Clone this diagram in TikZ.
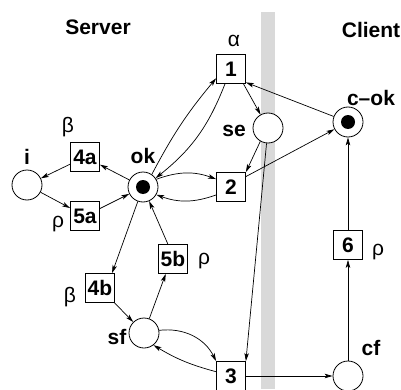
\documentclass[tikz,border=0pt]{standalone}
\usepackage{fontspec}
\setmainfont{Liberation Sans}
\usetikzlibrary{arrows.meta}
\definecolor{bandgray}{RGB}{217,217,217}
\begin{document}
\begin{tikzpicture}[x=1pt,y=1pt,
  font=\fontsize{21}{25}\selectfont,
  trans/.style={draw,line width=0.8pt,fill=white,minimum size=29pt,inner sep=0pt,
    font=\fontsize{21}{25}\selectfont\bfseries},
  place/.style={draw,circle,line width=0.8pt,fill=white,minimum size=30pt,inner sep=0pt},
  lbl/.style={inner sep=0pt,font=\fontsize{21}{25}\selectfont\bfseries},
  greek/.style={inner sep=0pt},
  token/.style={fill=black},
  arc/.style={line width=0.7pt,-{Stealth[length=8pt,width=4.5pt,inset=2pt]}}]

\useasboundingbox (0,0) rectangle (401,389);
\clip (0,0) rectangle (401,389);

% separator between server and client
\fill[bandgray] (261,0) rectangle (275,377);

% headings
\node[lbl] (server) at (98,362) {Server};
\node[lbl] (client) at (371,359) {Client};

% places
\node[place] (i)   at (27,204)  {};
\node[place] (ok)  at (143,202) {};
\node[place] (se)  at (268,261) {};
\node[place] (cok) at (348,267) {};
\node[place] (sf)  at (144,56)  {};
\node[place] (cf)  at (348,13)  {};
\fill[token] (ok)  circle[radius=7pt];
\fill[token] (cok) circle[radius=7pt];

% place names
\node[lbl] (ilbl)   at (27,232)  {i};
\node[lbl] (oklbl)  at (143,233) {ok};
\node[lbl] (selbl)  at (234,258) {se};
\node[lbl] (coklbl) at (371,291) {c--ok};
\node[lbl] (sflbl)  at (117,52)  {sf};
\node[lbl] (cflbl)  at (371,41)  {cf};

% transitions
\node[trans] (t1)  at (231,320) {1};
\node[trans] (t2)  at (231,202) {2};
\node[trans] (t3)  at (231,13)  {3};
\node[trans] (t4a) at (85,232)  {4a};
\node[trans] (t5a) at (85,173)  {5a};
\node[trans] (t4b) at (100,101) {4b};
\node[trans] (t5b) at (173,130) {5b};
\node[trans] (t6)  at (348,144) {6};

% transition annotations
\node[greek] (g1)  at (234,348) {α};
\node[greek] (g4a) at (68,262)  {β};
\node[greek] (g5a) at (58,165)  {ρ};
\node[greek] (g4b) at (70,92)   {β};
\node[greek] (g5b) at (204,128) {ρ};
\node[greek] (g6)  at (378,137) {ρ};

% arcs
\draw[arc] (ok.55) to[bend left=6] (t1.212);
\draw[arc] (t1.248) to[bend left=15] (ok.35);
\draw[arc] (t1.-50) -- (se);
\draw[arc] (cok) -- (t1.-42);
\draw[arc] (se.240) -- (t2.north east);
\draw[arc] (t2.35) -- (cok);
\draw[arc] (se) -- (t3.north east);
\draw[arc] (ok.30) to[bend left=20] (t2.152);
\draw[arc] (t2.208) to[bend left=20] (ok.-30);
\draw[arc] (ok) -- (t4a);
\draw[arc] (t4a) -- (i);
\draw[arc] (i) -- (t5a);
\draw[arc] (t5a) -- (ok);
\draw[arc] (ok) -- (t4b.51);
\draw[arc] (t4b) -- (sf);
\draw[arc] (sf) -- (t5b.244);
\draw[arc] (t5b.109) -- (ok);
\draw[arc] (sf.10) to[bend left=35] (t3.north west);
\draw[arc] (t3.164) to[bend left=8] (sf.-52);
\draw[arc] (t3) -- (cf);
\draw[arc] (cf) -- (t6);
\draw[arc] (t6) -- (cok);
\end{tikzpicture}
\end{document}
